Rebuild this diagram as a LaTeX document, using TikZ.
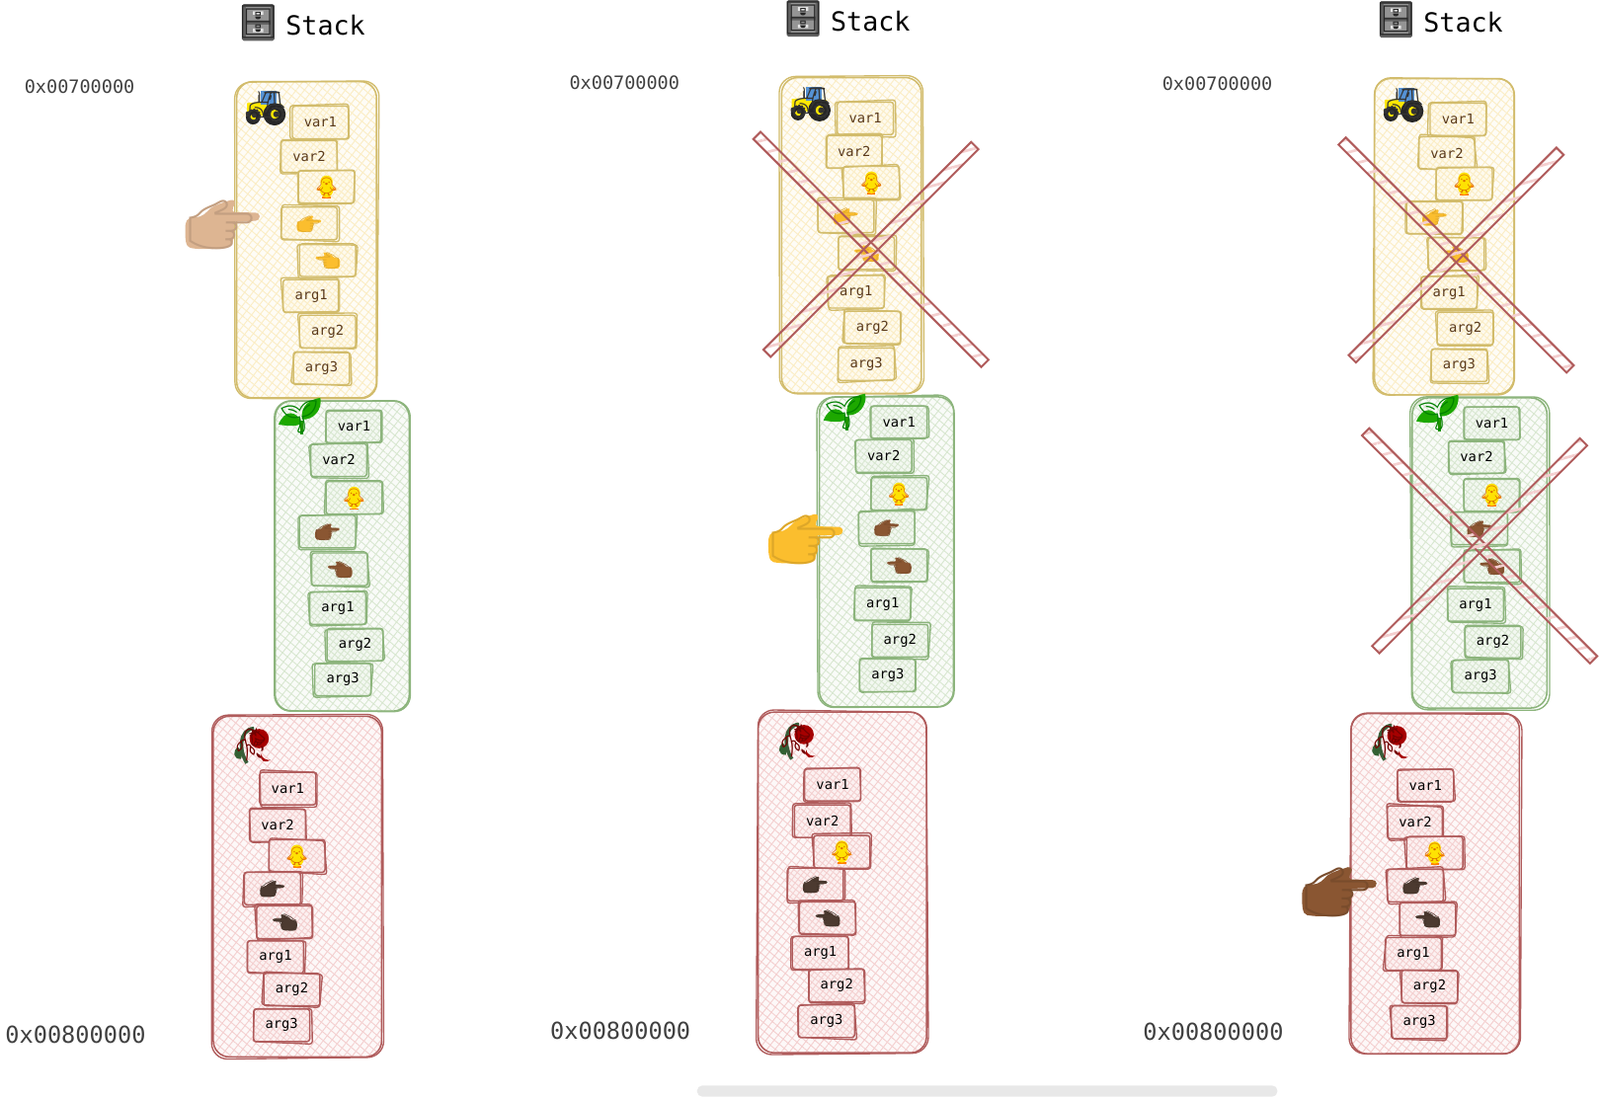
\documentclass[tikz,border=0pt]{standalone}
\usepackage{fontspec}
\setmainfont{DejaVu Sans Mono}
\newfontfamily\emojifont{Noto Emoji}
\usetikzlibrary{patterns.meta}

\definecolor{yellowline}{HTML}{D2BC6C}
\definecolor{yellowhatch}{HTML}{FBEDC4}
\definecolor{yellowtext}{HTML}{5A3A1C}
\definecolor{greenline}{HTML}{8CB47C}
\definecolor{greenhatch}{HTML}{D8E7D0}
\definecolor{redline}{HTML}{B05C5C}
\definecolor{redhatch}{HTML}{F4CFCF}
\definecolor{skinlight}{HTML}{DDB592}
\definecolor{skinyellow}{HTML}{FBBE2E}
\definecolor{skinbrown}{HTML}{8A5632}
\definecolor{skindark}{HTML}{4C3A30}

\newcommand{\emo}[3]{{\fontsize{#1}{#1}\selectfont\color{#2}\emojifont #3}}
\newcommand{\handpath}{(36,-7) .. controls (36,-9.5) and (34,-10) .. (32,-10.5) -- (12,-11)
    .. controls (9,-11) and (9,-14) .. (10,-16) .. controls (13,-19) and (12,-24) .. (8,-23)
    .. controls (2,-21) and (-6,-19) .. (-12,-15) .. controls (-16,-11) and (-20,-6) .. (-27,-6)
    .. controls (-36,-6) and (-37,-2) .. (-37,6) .. controls (-37,14) and (-37,23) .. (-32,24)
    .. controls (-22,26) and (-8,25) .. (2,24) .. controls (9,23) and (12,14) .. (11,8)
    -- (11,-2) -- (32,-2.5) .. controls (34.5,-3) and (36,-4.5) .. (36,-7) -- cycle}

\tikzset{
    glyph size/.store in=\glyphsize, glyph size=30,
    hatched/.style={
        preaction={pattern={Lines[angle=52,distance=#1,line width=.5pt]},pattern color=hatchcolor},
        preaction={pattern={Lines[angle=-40,distance=#1,line width=.5pt]},pattern color=hatchcolor}},
    panel/.style={line width=.85pt,rounded corners=9pt,hatched=3.6pt},
    cell/.style={line width=.8pt,rounded corners=1.5pt,hatched=2.6pt,inner sep=0pt,
        minimum width=1.1cm,minimum height=.64cm,font=\fontsize{7.6}{9}\selectfont},
    yellowpanel/.style={preaction={fill=yellowhatch!15},panel,draw=yellowline},
    greenpanel/.style={preaction={fill=greenhatch!15},panel,draw=greenline},
    redpanel/.style={preaction={fill=redhatch!15},panel,draw=redline},
    yellowbox/.style={preaction={fill=yellowhatch!30},cell,draw=yellowline,text=yellowtext},
    greenbox/.style={preaction={fill=greenhatch!30},cell,draw=greenline,text=black},
    redbox/.style={preaction={fill=redhatch!30},cell,draw=redline,text=black},
    emoji/.style={inner sep=0pt},
    address/.style={text=black!75,font=\fontsize{10.2}{12}\selectfont},
    bigaddress/.style={text=black!75,font=\fontsize{13}{15}\selectfont},
    title/.style={font=\fontsize{14.7}{17}\selectfont},
    crossbar/.style={draw=redline,line width=1.1pt,minimum height=.2cm,inner sep=0pt,
        pattern={Lines[angle=15,distance=7pt,line width=1.5pt]},pattern color=redhatch},
    handright/.pic={
        \fill[#1] \handpath;
        \node[emoji] (glyph) at (-2,2) {\emo{\glyphsize}{#1!88!black}{👉}};
    },
    handleft/.pic={
        \fill[#1,xscale=-1] \handpath;
        \node[emoji] (glyph) at (2,2) {\emo{\glyphsize}{#1!88!black}{👈}};
    },
    chick/.pic={
        \fill[orange!90!yellow] (-10,3) -- (-3,-2) -- (-3,5) -- cycle (10,3) -- (3,-2) -- (3,5) -- cycle;
        \fill[orange] (-4,10) rectangle (4,11.5);
        \fill[yellow!85!orange] (0,3) ellipse (6.5 and 7.5) (0,-5) circle (6);
        \node[emoji] (glyph) at (0,0) {\emo{10}{orange!85!black}{🐥}};
    },
    tractor/.pic={
        \fill[yellow!90!orange] (-18,-5) -- (-4,-6) -- (16,-4) -- (16,7) -- (-18,8) -- cycle;
        \fill[cyan!55!blue!70] (-4,-17) rectangle (11,-3);
        \fill[black!85] (9,6) circle (11) (-12,9) circle (7);
        \fill[yellow!90!orange] (9,6) circle (4.5) (-12,9) circle (2.8);
        \node[emoji] (glyph) at (0,-1) {\emo{18}{black!80}{🚜}};
    },
    seedling/.pic={
        \draw[green!50!black!85!lime,line width=1.8pt] (3,3) -- (3,17);
        \fill[green!60!black!85!lime] (3,6) .. controls (-2,-7) and (-14,-8) .. (-20,7) .. controls (-10,9) and (-2,9) .. (3,6) -- cycle;
        \fill[green!60!black!85!lime] (3,2) .. controls (1,-12) and (12,-18) .. (21,-19) .. controls (23,-7) and (14,3) .. (3,2) -- cycle;
        \node[emoji] (glyph) at (0,0) {\emo{18}{green!50!black}{🌱}};
    },
    rose/.pic={
        \draw[green!25!black!55!gray,line width=2pt] (-4,18) .. controls (-12,6) and (-12,-15) .. (3,-16);
        \fill[green!30!black!60!gray] (-10,14) .. controls (-18,14) and (-18,6) .. (-13,2) .. controls (-9,6) and (-8,10) .. (-10,14) -- cycle;
        \fill[red!65!black] (8,-6) circle (9.5);
        \fill[red!65!black] (10,9) .. controls (11,14) and (15,15) .. (19,15) .. controls (15,18) and (8,17) .. (10,9) -- cycle;
        \node[emoji] (glyph) at (0,0) {\emo{18}{red!45!black}{🥀}};
    },
    cabinet/.pic={
        \fill[black!62,rounded corners=1pt] (-16,-18) rectangle (16,18);
        \fill[black!42] (-12,-15) rectangle (12,-2) (-12,2) rectangle (12,15);
        \fill[white!90!black] (-5,-11) rectangle (5,-7.5) (-5,6) rectangle (5,9.5);
    },
}
\colorlet{hatchcolor}{yellowhatch}

% extra sketchy stroke round a node
\newcommand{\roughline}[3]{
    \draw[#2line,line width=.75pt,rounded corners=#3] ([shift={(rand*1.1pt,rand*1.1pt)}]#1.north west)
        -- ([shift={(rand*1.1pt,rand*1.1pt)}]#1.north east) -- ([shift={(rand*1.1pt,rand*1.1pt)}]#1.south east)
        -- ([shift={(rand*1.1pt,rand*1.1pt)}]#1.south west) -- cycle;
}

% one panel with its eight boxes
\newcommand{\stackframe}[7]{
    \colorlet{hatchcolor}{#2hatch}
    \node[#2panel,minimum width={#5*0.02cm},minimum height={#6*0.02cm}] (#1) at (#3,#4) {};
    \roughline{#1}{#2}{9pt}
    \foreach \boxname/\bx/\by/\boxtext in {#7} {
        \node[#2box] (#1\boxname) at (\bx,\by) {\boxtext};
        \roughline{#1\boxname}{#2}{1.5pt}
    }
    \pic at (#1chick) {chick};
}

% title, addresses and the three panels of a column
\newcommand{\stackcolumn}[8]{
    \begin{scope}[shift={(#2,#3)}]
        \pic at (253,22) {cabinet};
        \node[emoji] (#1cabinet) at (253,22) {\emo{18}{black!85}{🗄}};
        \node[title] (#1title) at (319,25) {Stack};
        \node[address] (#1top) at (78,85) {0x00700000};
        \node[bigaddress] (#1bottom) at (74,1014) {0x00800000};

        \stackframe{#1y}{yellow}{300.5}{235}{137}{310}{var1/314/120/var1, var2/303/153/var2,
            chick/320/183/{}, hand/303+#4/219+#6/{}, back/321+#5/255+#6/{},
            arg1/305/290/arg1, arg2/321/325/arg2, arg3/315/361/arg3}
        \pic[scale=.33,glyph size=10] at (#1yhand) {handright=skinyellow};
        \pic[scale=.33,glyph size=10] at (#1yback) {handleft=skinyellow};
        \stackframe{#1g}{green}{335}{545}{132}{304}{var1/347/418/var1, var2/332/451/var2,
            chick/347/488/{}, hand/321+#7/521/{}, back/333+#7/558/{},
            arg1/331/596/arg1, arg2/348/632/arg2, arg3/336/666/arg3}
        \pic[scale=.33,glyph size=10] at (#1ghand) {handright=skinbrown};
        \pic[scale=.33,glyph size=10] at (#1gback) {handleft=skinbrown};
        \stackframe{#1r}{red}{291.5}{869}{165}{334}{var1/282/773/var1, var2/272/809/var2,
            chick/291/839/{}, hand/267+#8/871/{}, back/279+#8/904/{},
            arg1/270/938/arg1, arg2/286/970/arg2, arg3/276/1005/arg3}
        \pic[scale=.33,glyph size=10] at (#1rhand) {handright=skindark};
        \pic[scale=.33,glyph size=10] at (#1rback) {handleft=skindark};

        \pic at (260,106) {tractor};
        \pic at (293,409) {seedling};
        \pic at (246,730) {rose};
    \end{scope}
}

% two crossed bars over a panel
\newcommand{\crossout}[3]{
    \node[crossbar,minimum width=6.32cm,rotate=-45] (#1a) at (#2,#3) {};
    \node[crossbar,minimum width=5.76cm,rotate=45] (#1b) at (#2,#3) {};
}

\begin{document}
\begin{tikzpicture}[x=0.02cm,y=-0.02cm]
    \useasboundingbox (0,0) rectangle (1568,1076.3);

    \stackcolumn{a}{0}{0}{0}{0}{0}{0}{0}
    \stackcolumn{b}{534}{-4}{-8}{-6}{-3}{14}{-2}
    \stackcolumn{c}{1115}{-3}{-12}{-9}{-3}{14}{5}

    \crossout{bx}{853.5}{244.5}
    \crossout{cx}{1427}{250}
    \crossout{dx}{1450}{535}

    \pic at (218.5,219) {handright=skinlight};
    \pic at (790,527) {handright=skinyellow};
    \pic at (1313,873) {handright=skinbrown};

    \node[fill=black!9,rounded corners=3pt,minimum width=11.38cm,minimum height=.22cm,inner sep=0pt] (scrollbar) at (967.5,1069.5) {};
\end{tikzpicture}
\end{document}
